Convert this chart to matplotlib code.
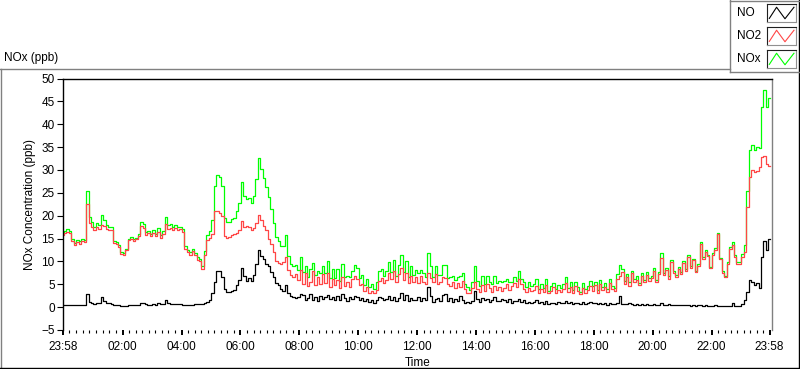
import numpy as np
import matplotlib
matplotlib.use("Agg")
import matplotlib.pyplot as plt
from matplotlib.lines import Line2D

plt.rcParams['font.family'] = ['Liberation Sans', 'DejaVu Sans']

# 5-minute readings starting at 23:58 (one row per hour), last value at 23:58 next day
no2_rows = [
    [15.8, 16.2, 16.5, 16.3, 14.5, 13.6, 14.3, 13.9, 14.4, 14.2, 22.5, 18.5],
    [17.6, 16.8, 17.5, 17.0, 17.9, 17.8, 17.0, 16.8, 16.9, 14.0, 13.8, 13.2],
    [11.7, 11.5, 12.5, 14.6, 14.9, 14.5, 14.8, 15.5, 17.8, 17.2, 15.8, 16.2],
    [15.5, 16.3, 15.6, 16.4, 15.2, 16.0, 18.2, 17.0, 17.4, 16.9, 17.3, 16.8],
    [17.0, 16.5, 12.8, 12.0, 11.5, 12.2, 11.3, 10.4, 10.0, 8.4, 11.5, 14.6],
    [15.2, 16.0, 21.0, 21.0, 20.6, 20.0, 15.5, 15.2, 15.3, 15.8, 15.9, 16.2],
    [16.8, 18.8, 17.5, 17.8, 17.6, 16.9, 17.2, 18.5, 20.2, 19.0, 17.8, 16.8],
    [15.0, 13.8, 12.0, 10.0, 9.6, 9.4, 9.8, 11.0, 8.2, 7.0, 6.6, 7.2],
    [6.0, 8.2, 5.0, 7.4, 4.6, 5.5, 8.0, 4.8, 6.6, 5.0, 7.2, 5.2],
    [7.4, 4.5, 6.2, 4.8, 6.0, 4.2, 6.6, 4.6, 5.4, 4.3, 6.2, 6.8],
    [6.2, 4.8, 5.0, 3.6, 4.4, 3.2, 3.5, 3.0, 3.8, 5.8, 6.4, 5.2],
    [6.0, 7.5, 6.2, 8.0, 5.5, 7.2, 8.5, 6.0, 7.4, 5.2, 6.8, 5.6],
    [6.5, 5.2, 6.8, 5.4, 5.0, 7.5, 6.4, 5.4, 7.2, 5.0, 5.6, 6.6],
    [6.4, 5.0, 4.6, 5.6, 4.2, 5.2, 4.4, 5.8, 4.0, 3.2, 3.0, 4.2],
    [5.5, 4.0, 3.4, 4.8, 3.6, 5.0, 4.2, 3.4, 4.6, 3.8, 4.4, 3.6],
    [4.2, 5.0, 3.8, 4.6, 5.2, 4.4, 6.2, 5.0, 4.0, 3.4, 4.2, 3.6],
    [3.8, 4.6, 3.2, 4.0, 3.4, 4.8, 3.0, 3.6, 4.4, 3.2, 3.8, 3.4],
    [4.0, 5.2, 3.4, 4.4, 3.0, 4.6, 3.6, 2.8, 4.2, 3.2, 3.8, 4.6],
    [3.6, 4.8, 3.2, 5.0, 3.8, 4.4, 3.4, 5.2, 4.0, 3.6, 6.2, 6.8],
    [7.6, 5.0, 6.6, 4.6, 7.4, 5.6, 6.0, 4.8, 6.8, 5.4, 7.0, 5.8],
    [6.4, 8.0, 5.6, 7.2, 10.8, 7.0, 8.2, 6.2, 9.8, 7.4, 6.6, 8.4],
    [7.2, 9.6, 8.0, 11.0, 8.6, 10.2, 7.6, 9.0, 13.8, 10.6, 12.0, 11.2],
    [8.5, 11.5, 12.5, 16.0, 10.5, 7.5, 6.5, 9.5, 12.8, 13.5, 11.0, 9.5],
    [9.5, 11.0, 12.0, 22.0, 28.5, 30.0, 29.5, 29.8, 30.6, 32.8, 33.0, 31.2],
]
no2_last = 30.8

no_rows = [
    [0.5, 0.5, 0.5, 0.4, 0.4, 0.5, 0.4, 0.5, 0.4, 0.5, 2.9, 1.2],
    [1.0, 0.7, 0.8, 0.9, 2.3, 1.3, 1.0, 0.8, 0.6, 0.5, 0.4, 0.4],
    [0.3, 0.3, 0.3, 0.4, 0.4, 0.4, 0.4, 0.5, 0.8, 1.0, 0.6, 0.5],
    [0.5, 0.6, 0.5, 0.9, 0.6, 0.7, 1.6, 0.9, 0.7, 0.6, 0.6, 0.7],
    [0.6, 0.5, 0.5, 0.5, 0.5, 0.5, 0.6, 0.6, 0.6, 0.6, 0.8, 1.2],
    [1.5, 3.0, 5.5, 8.0, 7.8, 6.5, 4.0, 3.4, 3.3, 3.5, 3.7, 4.8],
    [6.0, 8.5, 6.8, 5.8, 6.3, 5.8, 7.0, 9.5, 12.5, 11.2, 10.5, 9.4],
    [9.0, 7.6, 6.5, 5.3, 4.8, 3.9, 3.6, 4.8, 3.0, 2.5, 2.3, 2.0],
    [2.2, 2.8, 2.6, 1.5, 2.0, 2.8, 1.6, 2.3, 1.4, 2.5, 1.8, 2.2],
    [2.6, 1.8, 2.2, 1.5, 2.4, 1.6, 2.8, 1.9, 1.4, 2.3, 1.7, 2.5],
    [2.3, 1.6, 2.0, 1.3, 1.8, 1.2, 1.5, 1.0, 1.6, 2.2, 1.9, 1.5],
    [1.8, 2.4, 1.5, 2.2, 1.4, 2.0, 3.0, 1.6, 2.6, 1.3, 2.1, 1.5],
    [1.6, 2.2, 1.4, 2.0, 1.5, 4.3, 2.5, 1.2, 1.8, 2.1, 1.4, 2.6],
    [2.8, 1.4, 2.0, 1.2, 1.8, 1.3, 2.4, 1.6, 1.0, 1.2, 0.8, 1.4],
    [3.5, 1.8, 1.2, 2.0, 1.5, 1.8, 1.2, 1.6, 2.2, 1.4, 1.3, 1.8],
    [1.6, 1.2, 1.8, 1.0, 1.4, 1.3, 1.8, 1.1, 1.5, 0.9, 1.2, 1.0],
    [1.2, 1.5, 0.8, 1.1, 0.7, 1.3, 0.6, 1.0, 0.9, 0.7, 1.1, 0.8],
    [1.0, 1.4, 0.8, 1.2, 0.7, 1.0, 0.8, 0.6, 1.1, 0.7, 0.9, 1.2],
    [1.0, 0.8, 0.6, 1.0, 0.7, 0.8, 0.5, 0.9, 0.7, 0.6, 1.0, 2.5],
    [0.7, 0.7, 0.6, 0.8, 0.6, 0.5, 0.7, 0.5, 0.6, 0.5, 0.6, 0.5],
    [0.5, 0.6, 0.4, 0.5, 1.0, 0.5, 0.4, 0.6, 0.5, 0.4, 0.5, 0.4],
    [0.4, 0.5, 0.4, 0.5, 0.3, 0.4, 0.3, 0.4, 0.5, 0.3, 0.4, 0.3],
    [0.3, 0.3, 0.4, 0.3, 0.3, 0.3, 0.3, 0.3, 0.3, 0.8, 0.3, 0.3],
    [0.3, 0.6, 1.6, 3.4, 5.9, 5.5, 4.8, 5.2, 4.2, 11.0, 14.5, 12.5],
]
no_last = 15.0

tick_labels = ["23:58", "02:00", "04:00", "06:00", "08:00", "10:00", "12:00",
               "14:00", "16:00", "18:00", "20:00", "22:00", "23:58"]
tick_pos = [-2] + list(range(120, 1321, 120)) + [1438]

no2 = np.array(sum(no2_rows, []) + [no2_last])
no = np.array(sum(no_rows, []) + [no_last])
nox = no + no2
minutes = -2 + 5 * np.arange(len(no))

W, H = 800, 369


def fx(x):
    return x / W


def fy(y):
    return 1 - y / H


fig = plt.figure(figsize=(W / 100, H / 100), dpi=100)

ax = fig.add_axes([fx(62.8), fy(330), fx(772 - 62.8), (330 - 78.5) / H])
ax.plot(minutes, nox, color='#00ff00', lw=0.9, drawstyle='steps-mid')
ax.plot(minutes, no2, color='#ff4646', lw=0.9, drawstyle='steps-mid')
ax.plot(minutes, no, color='black', lw=0.9, drawstyle='steps-mid')

ax.set_xlim(-2, 1443)
ax.set_ylim(-5, 50)
ax.set_yticks(range(-5, 51, 5))
ax.tick_params(axis='y', direction='out', length=4.3, width=0.8, pad=1.5, labelsize=8.5)
ax.set_xticks(tick_pos)
ax.set_xticklabels(tick_labels)
minor = []
for a, b in zip(tick_pos[:-1], tick_pos[1:]):
    minor += list(np.linspace(a, b, 10)[1:-1])
ax.set_xticks(minor, minor=True)
ax.tick_params(axis='x', which='major', direction='out', length=3.6, width=1.4, pad=4, labelsize=8.5)
ax.tick_params(axis='x', which='minor', direction='out', length=2.0, width=0.8)

ax.spines['bottom'].set_visible(False)
ax.spines['left'].set_color('black')
ax.spines['top'].set_color('black')
ax.spines['right'].set_color('#808080')
for s in ax.spines.values():
    s.set_linewidth(1.0)

ax.set_ylabel('NOx Concentration (ppb)', fontsize=8.5, labelpad=4)
ax.set_xlabel('Time', fontsize=8.5, labelpad=3)

fig.text(fx(3.5), fy(58), 'NOx (ppb)', fontsize=8.5, va='center', ha='left')

# outer frame
frame = [((0.5, 69), (0.5, 368), '#808080'), ((0, 69), (730, 69), '#808080'),
         ((799, 0), (799, 368), 'black'), ((0, 367.5), (799, 367.5), 'black'),
         ((730, 0), (730, 72), '#808080'), ((730, 72), (799, 72), '#808080'),
         ((730, 0.5), (799, 0.5), '#808080')]
for (x0, y0), (x1, y1), c in frame:
    fig.add_artist(Line2D([fx(x0), fx(x1)], [fy(y0), fy(y1)], color=c, lw=1.0,
                          transform=fig.transFigure))

# legend
legend_items = [("NO", 'black', 13), ("NO2", '#ff4646', 36), ("NOx", '#00ff00', 59)]
for name, color, yc in legend_items:
    fig.text(fx(737), fy(yc), name, fontsize=8.5, va='center', ha='left')
    sw = fig.add_axes([fx(767), fy(yc + 9), fx(29), 18 / H])
    sw.plot([0.08, 0.33, 0.62, 0.93], [0.2, 0.82, 0.18, 0.82], color=color, lw=0.8)
    sw.set_xlim(0, 1)
    sw.set_ylim(0, 1)
    sw.set_xticks([])
    sw.set_yticks([])
    sw.spines['top'].set_color('#202020')
    sw.spines['left'].set_color('#202020')
    sw.spines['bottom'].set_color('#909090')
    sw.spines['right'].set_color('#909090')

fig.savefig('out.png', dpi=100)
